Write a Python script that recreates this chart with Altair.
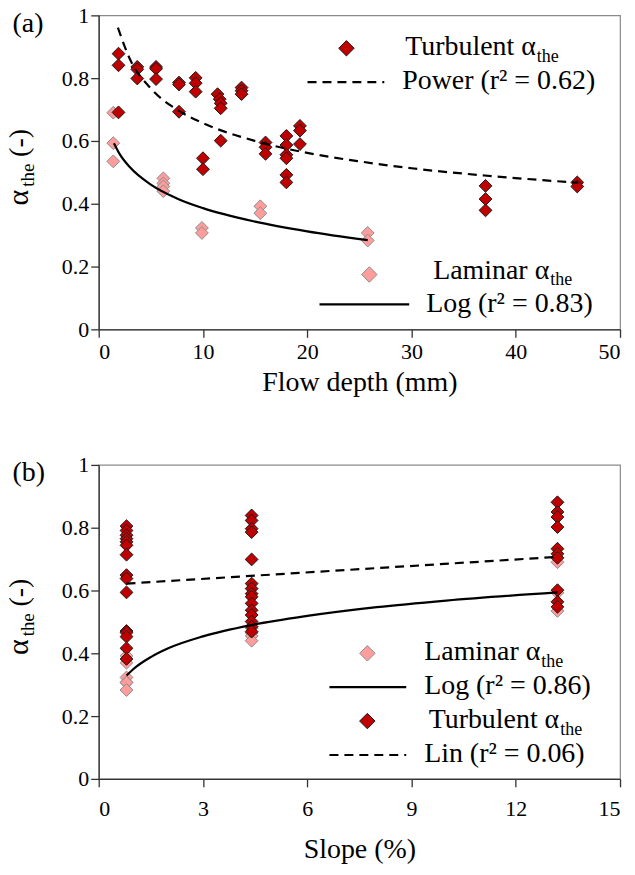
import altair as alt
import pandas as pd

FONT = "Liberation Serif, Times New Roman, Times, Tinos, DejaVu Serif, serif"
TURB_FILL = "#C00000"
TURB_STROKE = "#1a1a1a"
LAM_FILL = "#FF9D9D"
LAM_STROKE = "#8c8c8c"

# ---------------- Panel (a): alpha vs flow depth ----------------
a_turb_depth = [1.9, 1.9, 1.9, 3.7, 3.7, 3.7, 5.5, 5.5, 5.5, 7.7, 7.7, 7.7,
                9.3, 9.3, 9.3, 10.0, 10.0, 11.4, 11.6, 11.7, 11.7, 11.7,
                13.7, 13.7, 13.7, 16.0, 16.0, 16.0, 18.0, 18.0, 18.0, 18.0,
                18.0, 18.0, 19.3, 19.3, 19.3, 37.1, 37.1, 37.1, 45.9, 45.9]
a_turb_alpha = [0.878, 0.841, 0.691, 0.836, 0.828, 0.799, 0.836, 0.830, 0.797,
                0.786, 0.780, 0.693, 0.801, 0.784, 0.757, 0.545, 0.510, 0.749,
                0.733, 0.720, 0.704, 0.601, 0.770, 0.760, 0.749, 0.595, 0.580,
                0.559, 0.616, 0.587, 0.556, 0.545, 0.492, 0.468, 0.648, 0.633,
                0.590, 0.457, 0.415, 0.379, 0.468, 0.455]
a_lam_depth = [1.4, 1.4, 1.4, 6.2, 6.2, 6.2, 6.2, 9.9, 9.9, 15.5, 15.5, 25.8, 25.8]
a_lam_alpha = [0.690, 0.593, 0.535, 0.481, 0.465, 0.455, 0.440, 0.323, 0.307,
               0.392, 0.370, 0.307, 0.283]
# fitted curves
a_pow_depth = [1.84, 3, 5, 7.5, 10, 15, 20, 25, 30, 37, 46]
a_pow_alpha = [0.961, 0.860, 0.767, 0.700, 0.657, 0.600, 0.562, 0.535, 0.513, 0.490, 0.467]
a_log_depth = [1.46, 2, 3, 5, 7.5, 10, 15, 20, 25.8]
a_log_alpha = [0.593, 0.559, 0.516, 0.461, 0.417, 0.386, 0.343, 0.312, 0.284]

# ---------------- Panel (b): alpha vs slope ----------------
b_turb_slope = [0.8] * 15 + [4.4] * 15 + [13.2] * 10
b_turb_alpha = [0.805, 0.791, 0.776, 0.765, 0.755, 0.744, 0.714, 0.649, 0.638,
                0.594, 0.471, 0.466, 0.453, 0.416, 0.382,
                0.839, 0.823, 0.797, 0.786, 0.699, 0.622, 0.606, 0.590, 0.580,
                0.559, 0.537, 0.522, 0.501, 0.485, 0.469,
                0.881, 0.850, 0.834, 0.802, 0.733, 0.717, 0.704, 0.601, 0.564, 0.548]
b_lam_slope = [0.8] * 6 + [4.4] * 4 + [13.2] * 3
b_lam_alpha = [0.392, 0.370, 0.323, 0.307, 0.307, 0.283,
               0.480, 0.465, 0.455, 0.440,
               0.690, 0.593, 0.535]
b_log_slope = [0.8, 1, 1.5, 2, 3, 4.4, 6, 8, 10, 13.2]
b_log_alpha = [0.329, 0.350, 0.388, 0.416, 0.454, 0.490, 0.519, 0.547, 0.568, 0.594]
b_lin_slope = [0.8, 13.2]
b_lin_alpha = [0.622, 0.707]

y_ticks = [0, 0.2, 0.4, 0.6, 0.8, 1.0]
a_x_ticks = [0, 10, 20, 30, 40, 50]
b_x_ticks = [0, 3, 6, 9, 12, 15]

W, H = 523, 315
one = alt.Data(values=[{"k": 1}])


def df(xs, ys):
    return pd.DataFrame({"x": xs, "y": ys})


def txt(s, x, y, size=28, angle=0, align="left", baseline="alphabetic"):
    return alt.Chart(one).mark_text(
        text=s, fontSize=size, font=FONT, align=align, baseline=baseline,
        angle=angle, color="black"
    ).encode(x=alt.value(x), y=alt.value(y))


def sub_label(main, x_end, y, sub="the"):
    # main text right-aligned so its subscript follows directly after it
    return [txt(main, x_end, y, align="right"),
            txt(sub, x_end + 1, y + 7, size=18)]


def sym(x, y, fill, stroke, size=240):
    return alt.Chart(one).mark_point(
        shape="diamond", filled=True, size=size, fill=fill, stroke=stroke,
        strokeWidth=1, opacity=1
    ).encode(x=alt.value(x), y=alt.value(y))


def rule(x1, x2, y, dash=None):
    kw = dict(color="black", strokeWidth=2.2)
    if dash:
        kw["strokeDash"] = dash
    return alt.Chart(one).mark_rule(**kw).encode(
        x=alt.value(x1), x2=alt.value(x2), y=alt.value(y))


def panel(xdom, xticks, xtitle, lam, turb, solid, dashed, extras, lpad, tpad):
    xs = alt.Scale(domain=xdom, nice=False, zero=False)
    ys = alt.Scale(domain=[0, 1], nice=False)
    xax = alt.Axis(values=xticks, title=xtitle, grid=False, format="~f",
                   labelPadding=lpad, titlePadding=tpad)
    yax = alt.Axis(values=y_ticks, title=None, grid=False, format=".1~f")
    lam_pts = alt.Chart(lam).mark_point(
        shape="diamond", filled=True, size=165, fill=LAM_FILL, stroke=LAM_STROKE,
        strokeWidth=1, opacity=1
    ).encode(x=alt.X("x:Q", scale=xs, axis=xax), y=alt.Y("y:Q", scale=ys, axis=yax))
    turb_pts = alt.Chart(turb).mark_point(
        shape="diamond", filled=True, size=165, fill=TURB_FILL, stroke=TURB_STROKE,
        strokeWidth=1, opacity=1
    ).encode(x="x:Q", y="y:Q")
    solid_ln = alt.Chart(solid).mark_line(
        color="black", strokeWidth=2.2, interpolate="monotone"
    ).encode(x="x:Q", y="y:Q")
    dashed_ln = alt.Chart(dashed).mark_line(
        color="black", strokeWidth=2.2, strokeDash=[9, 6], interpolate="monotone"
    ).encode(x="x:Q", y="y:Q")
    return alt.layer(lam_pts, turb_pts, solid_ln, dashed_ln, *extras).properties(
        width=W, height=H)


def ytitle():
    return [
        txt("α", -71, 175, size=30, angle=270, align="right"),
        txt("the", -65, 172, size=19, angle=270),
        txt("(-)", -71, 142, size=28, angle=270),
    ]


extras_a = [
    sym(248.5, 33, TURB_FILL, TURB_STROKE),
    *sub_label("Turbulent α", 438.5, 40),
    rule(209.5, 286.5, 67, dash=[9, 6]),
    txt("Power (r² = 0.62)", 304.5, 74),
    sym(271.5, 260, LAM_FILL, LAM_STROKE),
    *sub_label("Laminar α", 452, 264),
    rule(221.5, 311.5, 290),
    txt("Log (r² = 0.83)", 328.5, 298),
    txt("(a)", -86.5, 17),
] + ytitle()

extras_b = [
    sym(269.5, 189, LAM_FILL, LAM_STROKE),
    *sub_label("Laminar α", 443, 196),
    rule(231.5, 308.5, 223),
    txt("Log (r² = 0.86)", 326.5, 230),
    sym(269.5, 257, TURB_FILL, TURB_STROKE),
    *sub_label("Turbulent α", 462, 264),
    rule(231.5, 308.5, 291, dash=[9, 6]),
    txt("Lin (r² = 0.06)", 326.5, 298),
    txt("(b)", -86.5, 16),
] + ytitle()

pa = panel([0, 50], a_x_ticks, "Flow depth (mm)",
           df(a_lam_depth, a_lam_alpha), df(a_turb_depth, a_turb_alpha),
           df(a_log_depth, a_log_alpha), df(a_pow_depth, a_pow_alpha), extras_a,
           4, 6)
pb = panel([0, 15], b_x_ticks, "Slope (%)",
           df(b_lam_slope, b_lam_alpha), df(b_turb_slope, b_turb_alpha),
           df(b_log_slope, b_log_alpha), df(b_lin_slope, b_lin_alpha), extras_b,
           12, 16)

chart = alt.vconcat(pa, pb, spacing=56).properties(
    padding={"left": -5, "top": -6, "right": 5, "bottom": 0}
).configure_view(
    stroke="#8a8a8a", strokeWidth=1.2
).configure_axis(
    labelFont=FONT, titleFont=FONT, labelFontSize=22, titleFontSize=28,
    labelColor="black", titleColor="black", titleFontWeight="normal",
    domainColor="#333333", tickColor="#333333", domainWidth=1.3, tickWidth=1.3,
    tickSize=8
)

chart.save("out.html", embed_options={"renderer": "svg", "actions": False})
